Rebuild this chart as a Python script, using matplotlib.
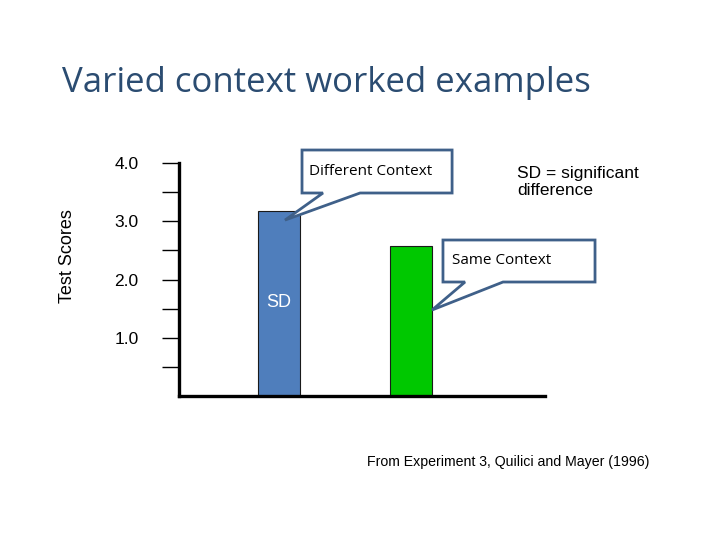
import matplotlib.pyplot as plt
from matplotlib.patches import Polygon

# data
conditions = ['Different Context', 'Same Context']
scores = [3.18, 2.58]
bar_colors = ['#4F7EBC', '#00C800']
major_ticks = [1.0, 2.0, 3.0, 4.0]
minor_ticks = [0.5, 1.5, 2.5, 3.5]

fig = plt.figure(figsize=(7.2, 5.4), dpi=100)
fig.patch.set_facecolor('white')

# title and source line
fig.text(62 / 720, 1 - 83 / 540, 'Varied context worked examples', fontsize=25,
         family='Open Sans', color='#2B4C71', va='center', ha='left')
fig.text(367 / 720, 1 - 462 / 540, 'From Experiment 3, Quilici and Mayer (1996)',
         fontsize=10.2, family='Liberation Sans', va='center', ha='left')

ax = fig.add_axes([179 / 720, 1 - 396 / 540, 366 / 720, 233 / 540])
x = list(range(len(scores)))
ax.bar(x, scores, width=0.32, color=bar_colors, edgecolor='#1a1a1a', linewidth=0.8, zorder=2)

ax.set_xlim(-0.758, 2.015)
ax.set_ylim(0, 4.0)
ax.set_xticks([])
ax.set_yticks(major_ticks)
ax.set_yticklabels([f'{t:.1f}' for t in major_ticks], family='Liberation Sans', fontsize=12.5)
ax.set_yticks(minor_ticks, minor=True)
ax.tick_params(axis='y', which='both', direction='out', length=12, width=1.0, pad=17)
for s in ['top', 'right']:
    ax.spines[s].set_visible(False)
ax.spines['left'].set_linewidth(2.4)
ax.spines['bottom'].set_linewidth(2.4)

fig.text(68 / 720, 1 - 256 / 540, 'Test Scores', family='Liberation Sans', fontsize=13,
         rotation=90, ha='center', va='center')

# "SD" mark inside the first bar
ax.text(x[0], 1.6, 'SD', color='white', fontsize=13, family='Liberation Sans',
        ha='center', va='center', zorder=3)


def callout(ax, box, base, tip):
    x0, x1, ytop, ybot = box
    b1, b2 = base
    pts = [(x0, ytop), (x1, ytop), (x1, ybot), (b2, ybot), tip, (b1, ybot), (x0, ybot)]
    poly = Polygon(pts, closed=True, facecolor='white', edgecolor='#3F6089',
                   linewidth=2, clip_on=False, zorder=4, joinstyle='miter')
    ax.add_patch(poly)


callout(ax, (0.174, 1.311, 4.223, 3.485), (0.333, 0.614), (x[0] + 0.045, scores[0] - 0.16))
ax.text(0.228, 3.86, conditions[0], family='Open Sans', fontsize=11, va='center',
        ha='left', zorder=5, clip_on=False)

callout(ax, (1.242, 2.394, 2.678, 1.957), (1.409, 1.697), (x[1] + 0.159, 1.476))
ax.text(1.310, 2.32, conditions[1], family='Open Sans', fontsize=11, va='center',
        ha='left', zorder=5, clip_on=False)

fig.text(517 / 720, 1 - 182 / 540, 'SD = significant\ndifference', family='Liberation Sans',
         fontsize=12.5, va='center', ha='left', linespacing=1.15)

fig.savefig('out.png', dpi=100)
